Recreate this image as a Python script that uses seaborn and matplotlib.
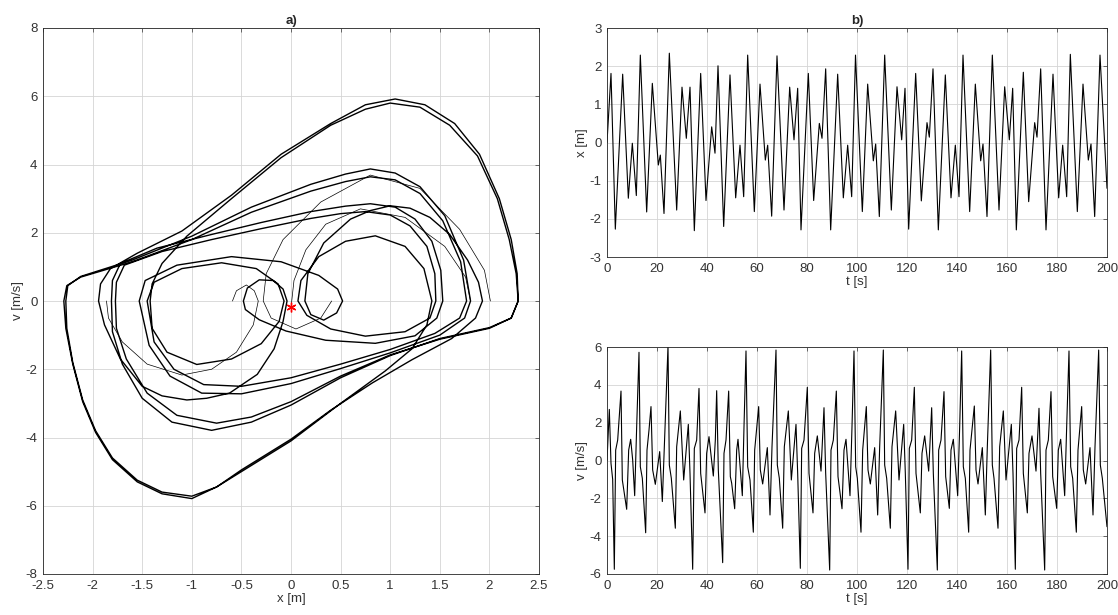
import matplotlib
matplotlib.use("Agg")
import matplotlib.pyplot as plt
import seaborn as sns
import numpy as np

# ---------------- data: x(t) extrema (top) ----------------
x_time = [0, 1.6, 3.33, 6.27, 8.53, 10.13, 11.73, 13.33, 15.87, 18.13,
          20.53, 21.33, 22.8, 24.93, 27.87, 30.0, 31.73, 33.2, 34.93, 37.47,
          39.6, 41.87, 43.2, 44.4, 46.67, 49.2, 51.47, 53.2, 54.67, 56.27,
          58.93, 61.2, 63.33, 64.27, 65.87, 68.0, 70.8, 73.07, 74.8, 76.27,
          77.6, 80.53, 82.67, 84.93, 86.0, 87.47, 89.47, 92.27, 94.53, 96.27,
          97.87, 99.4, 102.13, 104.27, 106.53, 107.47, 108.93, 111.07, 113.73, 116.0,
          117.87, 119.2, 120.67, 123.47, 125.73, 128.0, 128.93, 130.4, 132.53, 135.33,
          137.6, 139.33, 140.8, 142.4, 145.07, 147.33, 149.47, 150.4, 152.0, 154.13,
          156.8, 159.07, 160.93, 162.27, 163.73, 166.53, 168.67, 171.07, 172.0, 173.47,
          175.6, 178.4, 180.67, 182.27, 183.87, 185.33, 188.13, 190.4, 192.53, 193.6,
          195.07, 197.2, 200.0]
x_value = [0, 1.81, -2.27, 1.79, -1.46, -0.02, -1.39, 2.29, -1.82, 1.55,
           -0.59, -0.33, -1.86, 2.34, -1.77, 1.45, 0.11, 1.45, -2.31, 1.81,
           -1.52, 0.41, -0.28, 2.01, -2.2, 1.77, -1.45, -0.07, -1.42, 2.29,
           -1.81, 1.53, -0.46, -0.07, -1.93, 2.27, -1.77, 1.45, 0.07, 1.42,
           -2.29, 1.81, -1.52, 0.5, 0.11, 1.93, -2.29, 1.79, -1.45, -0.07,
           -1.42, 2.29, -1.81, 1.53, -0.48, -0.04, -1.94, 2.29, -1.77, 1.46,
           0.07, 1.42, -2.27, 1.81, -1.53, 0.52, 0.14, 1.93, -2.29, 1.77,
           -1.45, -0.07, -1.42, 2.29, -1.81, 1.53, -0.48, -0.04, -1.94, 2.29,
           -1.77, 1.46, 0.07, 1.42, -2.29, 1.84, -1.55, 0.52, 0.14, 1.93,
           -2.29, 1.79, -1.45, -0.07, -1.42, 2.31, -1.81, 1.53, -0.46, -0.04,
           -1.94, 2.29, -1.2]

# ---------------- data: v(t) extrema / shoulders (bottom) ----------------
v_time = [0, 0.93, 1.6, 2.27, 2.93, 3.47, 4.27, 5.6, 6.13, 7.87,
          8.67, 9.47, 10.27, 11.07, 11.87, 12.8, 13.33, 14.13, 15.47, 16.0,
          16.8, 17.6, 18.27, 19.33, 21.07, 22.13, 22.93, 24.4, 24.93, 25.73,
          27.33, 27.87, 29.33, 30.67, 32.53, 33.2, 34.27, 34.93, 35.87, 36.8,
          37.47, 39.2, 39.87, 40.8, 42.53, 43.33, 43.87, 44.53, 46.27, 46.8,
          47.6, 48.67, 49.33, 49.87, 51.07, 51.87, 52.4, 54.13, 54.8, 55.6,
          56.27, 57.2, 58.53, 59.07, 60.67, 61.33, 62.27, 64.13, 65.2, 66.0,
          67.6, 68.13, 68.93, 70.27, 70.93, 72.53, 73.73, 75.6, 76.27, 77.33,
          77.87, 78.8, 80.13, 80.8, 82.4, 83.07, 84.13, 85.6, 86.8, 87.47,
          89.07, 89.6, 90.53, 91.73, 92.4, 94.0, 94.8, 95.6, 97.2, 98.0,
          98.8, 99.47, 100.13, 101.6, 102.27, 103.73, 104.4, 105.33, 107.07, 108.27,
          109.07, 110.53, 111.07, 111.87, 113.33, 114.0, 115.47, 116.8, 118.67, 119.33,
          120.4, 120.93, 121.87, 122.93, 123.6, 125.33, 126.0, 127.07, 128.67, 129.87,
          130.53, 132.13, 132.67, 133.6, 134.8, 135.47, 136.93, 137.6, 138.53, 140.27,
          141.07, 141.87, 142.53, 143.33, 144.67, 145.2, 146.93, 147.6, 148.4, 150.13,
          151.33, 152.13, 153.47, 154.13, 154.8, 156.4, 157.07, 158.53, 159.6, 161.73,
          162.4, 163.33, 163.87, 164.8, 165.87, 166.53, 168.13, 168.8, 170.0, 171.6,
          172.8, 173.47, 175.07, 175.6, 176.53, 177.6, 178.27, 179.87, 180.53, 181.47,
          183.07, 183.87, 184.8, 185.47, 186.27, 187.73, 188.4, 189.87, 190.53, 191.47,
          193.2, 194.4, 195.2, 196.67, 197.33, 198.13, 200.0]
v_value = [0, 2.7, -0.15, -1.0, -5.75, 0.55, 1.08, 3.67, -1.03, -2.58,
           0.55, 1.12, 0.03, -1.86, 1.79, 5.72, -0.33, -0.94, -3.82, 0.55,
           1.61, 2.85, -0.5, -1.26, 0.47, -2.17, 0.73, 6.05, -0.24, -0.94,
           -3.58, 0.73, 2.62, -1.03, 1.91, -0.68, -5.75, 0.64, 1.08, 3.81,
           -0.68, -2.77, 0.38, 1.26, -0.82, 1.08, 3.69, -0.5, -5.4, 0.38,
           1.08, 3.67, -0.85, -1.2, -2.55, 0.55, 1.12, -1.86, 1.79, 5.79,
           -0.33, -1.03, -3.79, 0.55, 2.85, -0.5, -1.24, 0.68, -2.88, 0.73,
           5.84, -0.24, -0.94, -3.58, 0.73, 2.62, -1.03, 1.91, -0.68, -5.7,
           0.64, 1.08, 3.87, -0.68, -2.77, 0.38, 1.3, -0.56, 2.79, -0.68,
           -5.79, 0.55, 1.08, 3.67, -0.85, -2.55, 0.55, 1.12, -1.86, 1.79,
           5.79, -0.33, -0.94, -3.79, 0.55, 2.85, -0.5, -1.24, 0.68, -2.88,
           0.73, 5.84, -0.24, -0.94, -3.58, 0.73, 2.62, -1.03, 1.91, -0.68,
           -5.75, 0.64, 1.08, 3.87, -0.68, -2.77, 0.38, 1.3, -0.56, 2.79,
           -0.68, -5.79, 0.55, 1.08, 3.64, -0.85, -2.53, 0.55, 1.12, -1.86,
           1.79, 5.79, -0.33, -0.94, -3.79, 0.55, 2.88, -0.5, -1.24, 0.68,
           -2.88, 0.73, 5.84, -0.24, -0.94, -3.58, 0.73, 2.62, -1.03, 1.91,
           -0.68, -5.75, 0.64, 1.08, 3.87, -0.68, -2.77, 0.38, 1.3, -0.56,
           2.76, -0.68, -5.79, 0.55, 1.08, 3.64, -0.85, -2.53, 0.55, 1.12,
           -1.86, 1.79, 5.79, -0.33, -0.94, -3.79, 0.55, 2.85, -0.5, -1.24,
           0.68, -2.88, 0.73, 5.84, -0.24, -0.94, -3.5]

# ---------------- data: phase portrait (panel a) ----------------
orbit_x = [2.29, 2.22, 2.0, 1.5, 1.0, 0.5, 0.0, -0.4, -0.8, -1.2, -1.5, -1.7, -1.8, -1.81,
           -1.8, -1.72, -1.35, -0.8, -0.3, 0.2, 0.55, 0.8, 1.05, 1.25, 1.42, 1.51, 1.53,
           1.47, 1.25, 0.85, 0.35, -0.05, -0.32, -0.46, -0.48,
           -0.44, -0.32, -0.18, -0.08, -0.04,
           -0.08, -0.17, -0.34, -0.62, -0.85, -1.05, -1.3, -1.5, -1.72, -1.88, -1.94,
           -1.92, -1.82, -1.55, -1.1, -0.6, -0.1, 0.4, 0.75, 1.05, 1.35, 1.65, 1.9, 2.1, 2.22, 2.28, 2.29,
           2.22, 2.0, 1.5, 1.0, 0.5, 0.0, -0.4, -0.75, -1.15, -1.45, -1.66, -1.76, -1.77,
           -1.76, -1.68, -1.3, -0.8, -0.3, 0.2, 0.5, 0.75, 1.0, 1.2, 1.37, 1.45, 1.46,
           1.4, 1.15, 0.75, 0.4, 0.16, 0.07,
           0.1, 0.28, 0.55, 0.85, 1.15, 1.34, 1.42,
           1.37, 1.22, 0.95, 0.5, 0.0, -0.5, -0.75, -1.0, -1.3, -1.55, -1.8, -1.97, -2.1, -2.2, -2.26, -2.27,
           -2.25, -2.12, -1.6, -1.0, -0.4, 0.2, 0.55, 0.8, 1.05, 1.3, 1.55, 1.74, 1.81,
           1.75, 1.5, 1.0, 0.5, 0.0, -0.5, -0.9, -1.22, -1.43, -1.53,
           -1.47, -1.15, -0.6, -0.1, 0.28, 0.47, 0.52,
           0.46, 0.33, 0.2, 0.14,
           0.17, 0.33, 0.6, 0.8, 1.0, 1.2, 1.4, 1.6, 1.78, 1.89, 1.93,
           1.86, 1.62, 1.22, 0.82, 0.4, 0.0, -0.5, -0.75, -1.0, -1.3, -1.55, -1.8, -1.97, -2.1, -2.2, -2.27, -2.29,
           -2.26, -2.12, -1.6, -1.0, -0.4, 0.2, 0.55, 0.8, 1.05, 1.3, 1.53, 1.71, 1.77,
           1.7, 1.45, 1.0, 0.5, 0.0, -0.5, -0.88, -1.18, -1.38, -1.45,
           -1.38, -1.1, -0.7, -0.35, -0.13, -0.07,
           -0.12, -0.3, -0.6, -0.95, -1.25, -1.4, -1.42,
           -1.4, -1.3, -1.05, -0.6, -0.1, 0.4, 0.75, 1.0, 1.3, 1.6, 1.88, 2.08, 2.2, 2.27, 2.29]
orbit_v = [0, -0.5, -0.78, -1.1, -1.6, -2.25, -3.05, -3.55, -3.79, -3.55, -2.85, -1.85, -0.9, 0,
           0.6, 1.1, 1.55, 1.95, 2.3, 2.62, 2.78, 2.85, 2.75, 2.4, 1.75, 0.9, 0,
           -0.5, -1.02, -1.24, -1.15, -0.88, -0.55, -0.25, 0,
           0.38, 0.62, 0.6, 0.35, 0,
           -0.6, -1.4, -2.15, -2.7, -2.85, -2.9, -2.78, -2.5, -1.7, -0.7, 0,
           0.5, 0.95, 1.4, 2.05, 3.1, 4.3, 5.2, 5.75, 5.92, 5.75, 5.2, 4.3, 3.0, 1.8, 0.8, 0,
           -0.5, -0.8, -1.12, -1.58, -2.2, -2.95, -3.4, -3.58, -3.35, -2.7, -1.7, -0.8, 0,
           0.55, 1.05, 1.45, 1.8, 2.12, 2.42, 2.56, 2.62, 2.52, 2.2, 1.6, 0.8, 0,
           -0.5, -0.9, -1.03, -0.82, -0.42, 0,
           0.6, 1.3, 1.75, 1.91, 1.6, 0.95, 0,
           -0.7, -1.4, -2.05, -3.0, -4.1, -5.0, -5.45, -5.72, -5.6, -5.25, -4.6, -3.8, -2.9, -1.8, -0.8, 0,
           0.45, 0.72, 1.2, 1.9, 2.75, 3.42, 3.72, 3.87, 3.75, 3.35, 2.5, 1.2, 0,
           -0.5, -1.0, -1.52, -1.98, -2.42, -2.72, -2.7, -2.2, -1.3, 0,
           0.6, 1.05, 1.3, 1.15, 0.75, 0.35, 0,
           -0.35, -0.56, -0.4, 0,
           0.8, 1.7, 2.4, 2.65, 2.79, 2.72, 2.45, 1.95, 1.2, 0.55, 0,
           -0.5, -1.1, -1.72, -2.4, -3.2, -4.05, -4.95, -5.45, -5.79, -5.65, -5.3, -4.65, -3.85, -2.95, -1.85, -0.8, 0,
           0.45, 0.7, 1.15, 1.8, 2.6, 3.22, 3.5, 3.64, 3.55, 3.15, 2.35, 1.15, 0,
           -0.5, -0.95, -1.42, -1.85, -2.25, -2.5, -2.45, -2.0, -1.2, 0,
           0.55, 0.95, 1.12, 0.95, 0.5, 0,
           -0.6, -1.25, -1.7, -1.86, -1.5, -0.8, 0,
           0.5, 1.1, 1.9, 3.0, 4.2, 5.15, 5.62, 5.8, 5.68, 5.15, 4.25, 3.0, 1.8, 0.8, 0]

# start-up (transient) arcs of the phase portrait
start_x = [0.0, 0.03, 0.15, 0.35, 0.7, 1.15, 1.55, 1.76, 1.81]
start_v = [-0.2, 0.6, 1.5, 2.25, 2.7, 2.45, 1.6, 0.7, 0]
loop_x = [-0.59, -0.55, -0.45, -0.37, -0.33, -0.38, -0.55, -0.8, -1.1, -1.45, -1.7, -1.84, -1.86]
loop_v = [0, 0.3, 0.47, 0.3, 0, -0.7, -1.5, -2.0, -2.17, -1.85, -1.2, -0.5, 0]
late_x = [0.41, 0.3, 0.05, -0.2, -0.28, -0.25, -0.08, 0.3, 0.8, 1.3, 1.7, 1.95, 2.01]
late_v = [0, -0.5, -0.82, -0.5, 0, 0.8, 1.8, 2.9, 3.69, 3.3, 2.1, 0.9, 0]
start_point_x = [0.0]
start_point_v = [-0.17]

# ---------------- style ----------------
sns.set_style("white")
plt.rcParams["font.family"] = ["Liberation Sans", "DejaVu Sans"]
plt.rcParams["axes.unicode_minus"] = False
FS = 9.5
AX_COLOR = "#333333"
GRID_COLOR = "#d4d4d4"

fig = plt.figure(figsize=(11.18, 6.15), dpi=100)
W, H = 1118, 615


def make_axes(l, t, r, b):
    return fig.add_axes([l / W, 1 - b / H, (r - l) / W, (b - t) / H])


def style(ax):
    ax.grid(True, color=GRID_COLOR, lw=0.6)
    ax.set_axisbelow(True)
    for s in ax.spines.values():
        s.set_color("#262626")
        s.set_linewidth(0.6)
        s.set_visible(True)
    ax.tick_params(direction="in", top=True, right=True, length=3, width=0.5,
                   colors=AX_COLOR, labelsize=FS, pad=4)


# panel a
axa = make_axes(43, 28, 539, 574)
sns.lineplot(x=orbit_x, y=orbit_v, sort=False, estimator=None, ax=axa,
             color="black", lw=1.0, solid_joinstyle="round")
for xs, vs in [(start_x, start_v), (loop_x, loop_v), (late_x, late_v)]:
    sns.lineplot(x=xs, y=vs, sort=False, estimator=None, ax=axa,
                 color="black", lw=0.5, solid_joinstyle="round")
axa.plot(start_point_x, start_point_v, marker=(6, 2, 0), color="red",
         ms=7, mew=1.0, ls="none")
axa.set_xlim(-2.5, 2.5)
axa.set_ylim(-8, 8)
axa.set_xticks(np.arange(-2.5, 2.51, 0.5))
axa.set_xticklabels(["-2.5", "-2", "-1.5", "-1", "-0.5", "0", "0.5", "1", "1.5", "2", "2.5"])
axa.set_yticks(np.arange(-8, 8.1, 2))
axa.set_xlabel("x [m]", fontsize=FS, color=AX_COLOR, labelpad=1)
axa.set_ylabel("v [m/s]", fontsize=FS, color=AX_COLOR, labelpad=1)
axa.set_title("a)", fontsize=FS, fontweight="bold", pad=3)
style(axa)

# panel b top
axb = make_axes(607, 28, 1107, 257)
sns.lineplot(x=x_time, y=x_value, sort=False, estimator=None, ax=axb,
             color="black", lw=0.8, solid_joinstyle="round")
axb.set_xlim(0, 200)
axb.set_ylim(-3, 3)
axb.set_xticks(np.arange(0, 201, 20))
axb.set_yticks(np.arange(-3, 3.1, 1))
axb.set_xlabel("t [s]", fontsize=FS, color=AX_COLOR, labelpad=1)
axb.set_ylabel("x [m]", fontsize=FS, color=AX_COLOR, labelpad=1)
axb.set_title("b)", fontsize=FS, fontweight="bold", pad=3)
style(axb)

# panel b bottom
axc = make_axes(607, 347, 1107, 574)
sns.lineplot(x=v_time, y=v_value, sort=False, estimator=None, ax=axc,
             color="black", lw=0.8, solid_joinstyle="round")
axc.set_xlim(0, 200)
axc.set_ylim(-6, 6)
axc.set_xticks(np.arange(0, 201, 20))
axc.set_yticks(np.arange(-6, 6.1, 2))
axc.set_xlabel("t [s]", fontsize=FS, color=AX_COLOR, labelpad=1)
axc.set_ylabel("v [m/s]", fontsize=FS, color=AX_COLOR, labelpad=1)
style(axc)

fig.savefig("out.png", dpi=100)
